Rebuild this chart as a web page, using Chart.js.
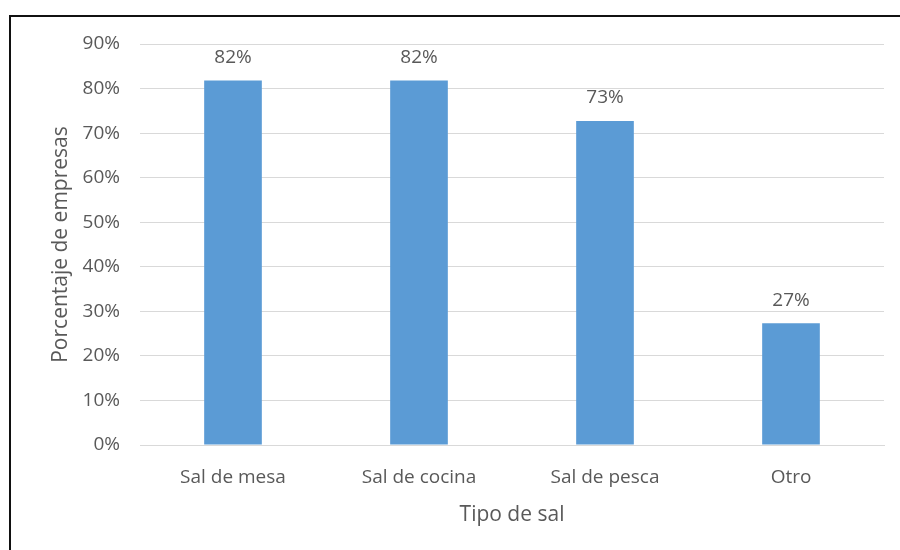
<!DOCTYPE html>
<html>
<head>
<meta charset="utf-8">
<script src="https://cdn.jsdelivr.net/npm/chart.js@4.4.0/dist/chart.umd.min.js"></script>
<style>
    html, body { margin: 0; padding: 0; background: #fff; }
    #wrap { position: relative; width: 900px; height: 550px; }
</style>
</head>
<body>
<div id="wrap"><canvas id="saltChart" width="900" height="550"></canvas></div>
<script>
const categories = ["Sal de mesa", "Sal de cocina", "Sal de pesca", "Otro"];
const shares = [81.8, 81.8, 72.7, 27.3];
const yTicks = [0, 10, 20, 30, 40, 50, 60, 70, 80, 90];

const FONT = "'Open Sans', sans-serif";
const TEXT = "#595959";

// frame lines top/left like the cropped Word figure
const framePlugin = {
    id: "frame",
    beforeDraw(chart) {
        const ctx = chart.ctx;
        ctx.save();
        ctx.fillStyle = "#fff";
        ctx.fillRect(0, 0, chart.width, chart.height);
        ctx.strokeStyle = "#111";
        ctx.lineWidth = 2;
        ctx.beginPath();
        ctx.moveTo(10, chart.height);
        ctx.lineTo(10, 16);
        ctx.lineTo(chart.width, 16);
        ctx.stroke();
        ctx.restore();
    },
};

const valueLabels = {
    id: "valueLabels",
    afterDatasetsDraw(chart) {
        const ctx = chart.ctx;
        const meta = chart.getDatasetMeta(0);
        ctx.save();
        ctx.font = `19px ${FONT}`;
        ctx.fillStyle = TEXT;
        ctx.textAlign = "center";
        ctx.textBaseline = "middle";
        meta.data.forEach((bar, i) => {
            ctx.fillText(Math.round(shares[i]) + "%", bar.x, bar.y - 23);
        });
        ctx.restore();
    },
};

new Chart(document.getElementById("saltChart").getContext("2d"), {
    type: "bar",
    data: {
        labels: categories,
        datasets: [{
            data: shares,
            backgroundColor: "#5B9BD5",
            borderWidth: 0,
            categoryPercentage: 1,
            barPercentage: 0.31,
        }],
    },
    options: {
        responsive: false,
        animation: false,
        devicePixelRatio: 1,
        layout: { padding: { left: 0, top: 44, right: 16, bottom: 0 } },
        plugins: {
            legend: { display: false },
            tooltip: { enabled: false },
        },
        scales: {
            x: {
                grid: { display: false },
                border: { display: true, color: "#D9D9D9", width: 1 },
                ticks: { color: TEXT, font: { family: FONT, size: 19 }, padding: 13 },
                title: {
                    display: true,
                    text: "Tipo de sal",
                    color: TEXT,
                    font: { family: FONT, size: 21 },
                    padding: { top: 0, bottom: 22 },
                },
                afterFit(scale) { scale.height = 105; },
            },
            y: {
                min: 0,
                max: 90,
                afterBuildTicks(scale) { scale.ticks = yTicks.map(v => ({ value: v })); },
                grid: { color: "#D9D9D9", drawTicks: false },
                border: { display: false },
                ticks: {
                    color: TEXT,
                    font: { family: FONT, size: 19 },
                    padding: 20,
                    callback: v => v + "%",
                },
                title: {
                    display: true,
                    text: "Porcentaje de empresas",
                    color: TEXT,
                    font: { family: FONT, size: 21 },
                    padding: { top: 48, bottom: 0 },
                },
                afterFit(scale) { scale.width = 140; },
            },
        },
    },
    plugins: [framePlugin, valueLabels],
});
</script>
</body>
</html>
